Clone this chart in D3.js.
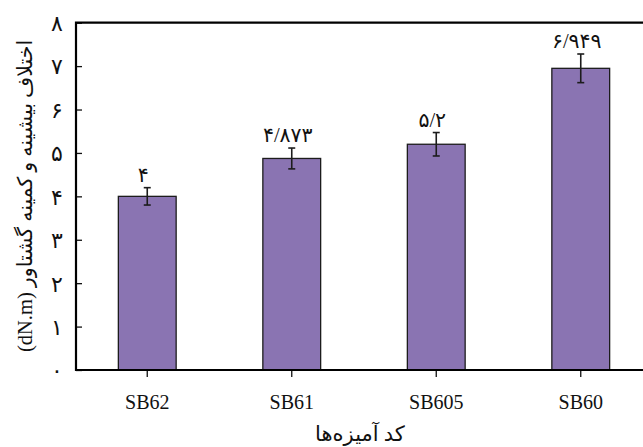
<!DOCTYPE html>
<html>
<head>
<meta charset="utf-8">
<script src="https://cdn.jsdelivr.net/npm/d3@7"></script>
<style>
  html, body { margin: 0; padding: 0; background: #fff; }
  svg { display: block; }
</style>
</head>
<body>
<svg id="chart" width="643" height="447"></svg>
<script>
// Compound codes and the measured torque difference (MH - ML)
const categories = ["SB62", "SB61", "SB605", "SB60"];
const values = [4, 4.873, 5.2, 6.949];
const errors = [0.2, 0.24, 0.27, 0.33];
const valueLabels = ["۴", "۴/۸۷۳", "۵/۲", "۶/۹۴۹"];
const yTicks = [0, 1, 2, 3, 4, 5, 6, 7, 8];
const yTickLabels = ["۰", "۱", "۲", "۳", "۴", "۵", "۶", "۷", "۸"];
const xTitle = "کد آمیزه‌ها";
const yTitle = "اختلاف بیشینه و کمینه گشتاور (dN.m)";

const svg = d3.select("#chart");
const plotLeft = 76, plotTop = 22.7, plotBottom = 370, plotRight = 653;
// Latin letters in a Times-like face, Persian glyphs fall back to DejaVu Sans
const faFont = "'Liberation Serif', 'DejaVu Sans', serif";
const enFont = "'Liberation Serif', 'Times New Roman', serif";

const x = d3.scaleBand().domain(categories).range([75, plotRight])
  .paddingInner(0.6).paddingOuter(0.3);
const y = d3.scaleLinear().domain([0, 8]).range([plotBottom, plotTop]);

// bars
svg.append("g").selectAll("rect").data(categories).join("rect")
  .attr("x", d => x(d))
  .attr("y", (d, i) => y(values[i]))
  .attr("width", x.bandwidth())
  .attr("height", (d, i) => y(0) - y(values[i]))
  .attr("fill", "#8a74b2")
  .attr("stroke", "#1c1c1c")
  .attr("stroke-width", 1.3);

// error bars
const eb = svg.append("g").attr("stroke", "#1c1c1c").attr("stroke-width", 1.6);
categories.forEach((c, i) => {
  const cx = x(c) + x.bandwidth() / 2;
  const hi = y(values[i] + errors[i]), lo = y(values[i] - errors[i]);
  eb.append("line").attr("x1", cx).attr("x2", cx).attr("y1", hi).attr("y2", lo);
  eb.append("line").attr("x1", cx - 3.5).attr("x2", cx + 3.5).attr("y1", hi).attr("y2", hi);
  eb.append("line").attr("x1", cx - 3.5).attr("x2", cx + 3.5).attr("y1", lo).attr("y2", lo);
});

// value labels
svg.append("g").selectAll("text").data(categories).join("text")
  .attr("x", d => x(d) + x.bandwidth() / 2 - 4)
  .attr("y", (d, i) => y(values[i] + errors[i]) - 6)
  .attr("text-anchor", "middle")
  .attr("font-family", faFont)
  .attr("font-size", 20.5)
  .attr("fill", "#111")
  .text((d, i) => valueLabels[i]);

// y axis with inward ticks
const yAxis = d3.axisRight(y).tickValues(yTicks).tickSize(6).tickFormat("");
const gy = svg.append("g").attr("transform", `translate(${plotLeft},0)`).call(yAxis);
gy.select(".domain").remove();
gy.selectAll(".tick line").attr("stroke", "#111").attr("stroke-width", 1.3);
svg.append("g").selectAll("text").data(yTicks).join("text")
  .attr("x", 57)
  .attr("y", d => y(d))
  .attr("dy", "0.38em")
  .attr("text-anchor", "middle")
  .attr("font-family", faFont)
  .attr("font-size", 22)
  .attr("fill", "#111")
  .text((d, i) => yTickLabels[i]);

// x axis with outward ticks
const xAxis = d3.axisBottom(x).tickSize(7).tickFormat("");
const gx = svg.append("g").attr("transform", `translate(0,${plotBottom})`).call(xAxis);
gx.select(".domain").remove();
gx.selectAll(".tick line").attr("stroke", "#111").attr("stroke-width", 1.3);
svg.append("g").selectAll("text").data(categories).join("text")
  .attr("x", d => x(d) + x.bandwidth() / 2)
  .attr("y", 408.5)
  .attr("text-anchor", "middle")
  .attr("font-family", enFont)
  .attr("font-size", 20)
  .attr("fill", "#111")
  .text(d => d);

// frame: left, top and bottom edges
const frame = svg.append("g").attr("stroke", "#000").attr("stroke-width", 2.2).attr("fill", "none");
frame.append("path").attr("d", `M660,${plotTop}H${plotLeft}V${plotBottom}H660`);

// axis titles
svg.append("text")
  .attr("x", 360).attr("y", 441)
  .attr("text-anchor", "middle")
  .attr("direction", "rtl")
  .attr("font-family", faFont)
  .attr("font-size", 21)
  .attr("fill", "#111")
  .text(xTitle);

svg.append("text")
  .attr("transform", "translate(32,196) rotate(-90)")
  .attr("text-anchor", "middle")
  .attr("direction", "rtl")
  .attr("font-family", faFont)
  .attr("font-size", 20.5)
  .attr("fill", "#111")
  .text(yTitle);
</script>
</body>
</html>
